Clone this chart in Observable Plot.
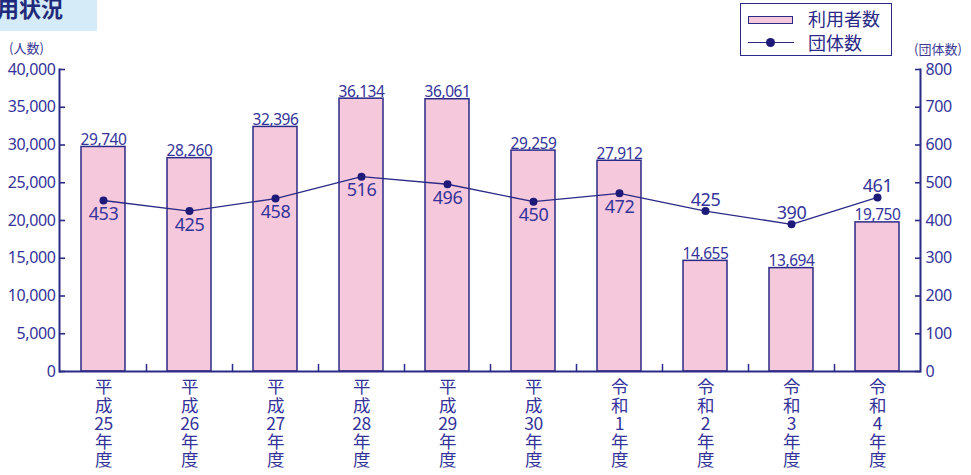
<!DOCTYPE html>
<html><head><meta charset="utf-8">
<script src="https://cdn.jsdelivr.net/npm/d3@7"></script>
<script src="https://cdn.jsdelivr.net/npm/@observablehq/plot@0.6"></script>
<style>
body{margin:0;background:#fff;font-family:"Noto Sans","Noto Sans CJK JP",sans-serif;}
#wrap{position:relative;width:971px;height:475px;overflow:hidden;background:#fff;}
#wrap svg{position:absolute;left:0;top:0;}
#wrap svg text{letter-spacing:-0.4px;}
.title{position:absolute;left:0;top:0;width:97px;height:31px;background:#d5ebf8;overflow:hidden;}
.title span{position:absolute;left:-25px;top:-9px;font-size:22px;font-weight:bold;color:#1f2a7a;white-space:nowrap;font-family:"Noto Sans CJK JP",sans-serif;}
.unit{position:absolute;font-size:13px;color:#3a3a94;font-family:"Noto Sans CJK JP",sans-serif;white-space:nowrap;}
.legend{position:absolute;left:740px;top:3px;width:150px;height:51px;border:1.6px solid #2b2a87;background:#fff;}
.legend .sw{position:absolute;left:7px;top:12px;width:43px;height:6px;background:#f6c8dc;border:1.4px solid #2b2a87;}
.legend .ln{position:absolute;left:7px;top:38px;width:46px;height:1.4px;background:#2b2a87;}
.legend .dt{position:absolute;left:25px;top:34px;width:9px;height:9px;border-radius:50%;background:#1d1a7a;}
.legend .tx{position:absolute;left:67px;font-size:18px;color:#2b2a87;font-family:"Noto Sans CJK JP",sans-serif;line-height:1;}
</style></head><body>
<div id="wrap">
  <div class="title"><span>利用状況</span></div>
  <div class="unit" style="left:9px;top:38px">(人数)</div>
  <div class="unit" style="left:914px;top:39px">(団体数)</div>
</div>
<script>
const categories = ["平成25年度","平成26年度","平成27年度","平成28年度","平成29年度","平成30年度","令和1年度","令和2年度","令和3年度","令和4年度"];
const users = [29740, 28260, 32396, 36134, 36061, 29259, 27912, 14655, 13694, 19750];
const groups = [453, 425, 458, 516, 496, 450, 472, 425, 390, 461];
const leftTicks = [0, 5000, 10000, 15000, 20000, 25000, 30000, 35000, 40000];
const rightTicks = [0, 100, 200, 300, 400, 500, 600, 700, 800];
const seriesNames = ["利用者数", "団体数"];

const navy = "#2b2a87";
const textCol = "#34339a";
const ratio = leftTicks[leftTicks.length - 1] / rightTicks[rightTicks.length - 1];
const data = categories.map((c, i) => ({cat: c, users: users[i], groups: groups[i]}));
const fmt = d3.format(",");
const vertical = s => { const m = s.match(/^(\D+?)(\d+)(\D+)$/); return [...m[1], m[2], ...m[3]].join("\n"); };
const above = d => d.users < d.groups * ratio;

const shiftToBoundary = (index, scales, values, dims, ctx, next) => {
  const sx = scales.x;
  const step = sx && typeof sx.step === "function" ? sx.step() : (dims.width - dims.marginLeft - dims.marginRight) / categories.length;
  return next(index, scales, {...values, x: Float64Array.from(values.x, v => v - step / 2)}, dims, ctx);
};
const tickShape = {draw(ctx, l) { ctx.moveTo(0, 0); ctx.lineTo(0, -l); }};

const plot = Plot.plot({
  width: 971, height: 475,
  marginLeft: 59, marginRight: 51, marginTop: 69, marginBottom: 104,
  style: {fontFamily: '"Noto Sans","Noto Sans CJK JP",sans-serif', color: textCol, background: "transparent", overflow: "visible"},
  x: {domain: categories, paddingInner: 0.49, paddingOuter: 0.245, axis: null, label: null},
  y: {domain: [0, 40000], label: null},
  marks: [
    Plot.barY(data, {x: "cat", y: "users", fill: "#f6c8dc", stroke: navy, strokeWidth: 1.5}),
    Plot.vector(categories.slice(1), {x: d => d, y: () => 0, length: 7, anchor: "start", shape: tickShape, stroke: navy, strokeWidth: 1.5, render: shiftToBoundary}),
    Plot.ruleY([0], {stroke: navy, strokeWidth: 2}),
    Plot.frame({anchor: "left", stroke: navy, strokeWidth: 2}),
    Plot.frame({anchor: "right", stroke: navy, strokeWidth: 2}),
    Plot.axisY(leftTicks, {anchor: "left", tickSize: 6, dx: 6, text: null, stroke: navy, strokeWidth: 1.6, label: null}),
    Plot.axisY(leftTicks, {anchor: "left", tickSize: 0, tickPadding: 4, tickFormat: fmt, fontSize: 16, fill: textCol, label: null}),
    Plot.axisY(rightTicks.map(d => d * ratio), {anchor: "right", tickSize: 6, dx: -6, text: null, stroke: navy, strokeWidth: 1.6, label: null}),
    Plot.axisY(rightTicks.map(d => d * ratio), {anchor: "right", tickSize: 0, tickPadding: 5, tickFormat: d => String(d / ratio), fontSize: 16, fill: textCol, label: null}),
    Plot.text(data, {x: "cat", y: "users", text: d => fmt(d.users), lineAnchor: "bottom", dy: -2, fontSize: 15.5, fill: textCol}),
    Plot.line(data, {x: "cat", y: d => d.groups * ratio, stroke: navy, strokeWidth: 1.3}),
    Plot.dot(data, {x: "cat", y: d => d.groups * ratio, r: 4, fill: "#1d1a7a", stroke: "none"}),
    Plot.text(data.filter(d => !above(d)), {x: "cat", y: d => d.groups * ratio, text: d => String(d.groups), lineAnchor: "top", dy: 7, fontSize: 18, fill: textCol}),
    Plot.text(data.filter(above), {x: "cat", y: d => d.groups * ratio, text: d => String(d.groups), lineAnchor: "bottom", dy: -5, fontSize: 18, fill: textCol}),
    Plot.text(categories, {x: d => d, frameAnchor: "bottom", text: vertical, lineAnchor: "top", dy: 9, fontSize: 17.5, lineHeight: 1.04, fill: textCol, fontFamily: '"Noto Sans CJK JP",sans-serif'})
  ]
});
const wrap = document.getElementById("wrap");
wrap.insertBefore(plot, wrap.firstChild);

const legend = document.createElement("div");
legend.className = "legend";
legend.innerHTML = `<div class="sw"></div><div class="tx" style="top:5px">${seriesNames[0]}</div>
<div class="ln"></div><div class="dt"></div><div class="tx" style="top:29px">${seriesNames[1]}</div>`;
wrap.appendChild(legend);
</script>
</body></html>
